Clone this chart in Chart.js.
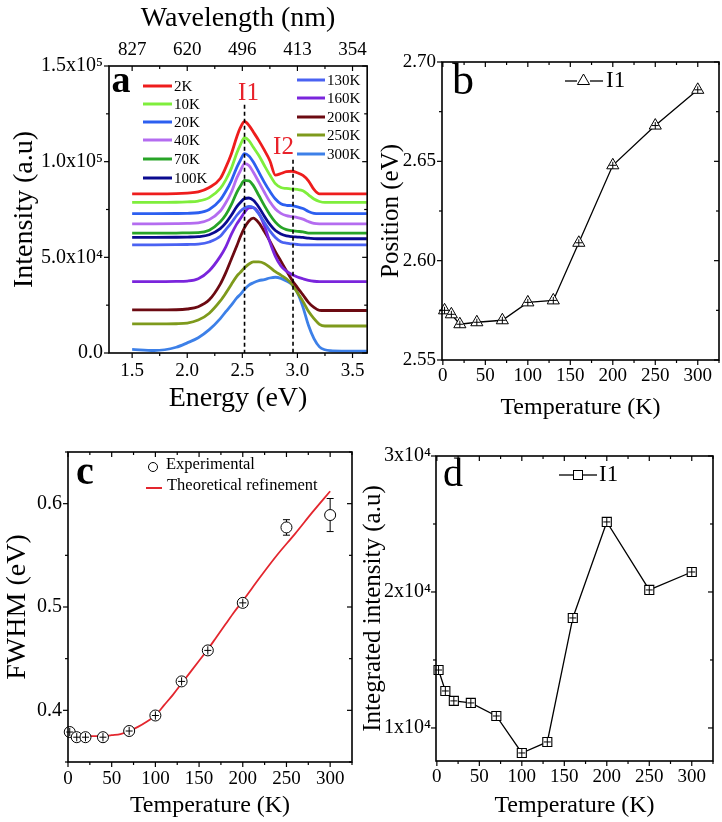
<!DOCTYPE html>
<html><head><meta charset="utf-8">
<script src="https://cdn.jsdelivr.net/npm/chart.js@4.4.1/dist/chart.umd.min.js"></script>
<style>
html,body{margin:0;padding:0;background:#fff;}
#wrap{position:relative;width:722px;height:822px;overflow:hidden;background:#fff;}
canvas{position:absolute;}
</style></head><body>
<div id="wrap">
<canvas id="ca" width="372" height="422" style="left:0px;top:0px"></canvas>
<canvas id="cb" width="350" height="425" style="left:372px;top:0px"></canvas>
<canvas id="cc" width="362" height="402" style="left:0px;top:420px"></canvas>
<canvas id="cd" width="366" height="402" style="left:356px;top:420px"></canvas>
</div>
<script>
// ---------- DATA ----------
// Panel a: PL spectra (intensity in units of 1e4 a.u.)
const energy = [1.5,1.7,1.9,2.0,2.1,2.2,2.3,2.35,2.4,2.45,2.48,2.52,2.56,2.6,2.65,2.7,2.75,2.8,2.85,2.9,2.95,3.0,3.05,3.1,3.15,3.2,3.25,3.3,3.4,3.5,3.63];
const s2K   = [8.32,8.32,8.33,8.36,8.42,8.65,9.12,9.7,10.4,11.3,11.75,12.1,11.9,11.55,11.1,10.6,10.05,9.3,9.38,9.48,9.5,9.42,9.28,9.0,8.55,8.32,8.32,8.32,8.32,8.32,8.32];
const s10K  = [7.87,7.87,7.88,7.9,7.94,8.12,8.6,9.05,9.65,10.45,10.85,11.25,11.1,10.75,10.32,9.8,9.3,8.85,8.65,8.6,8.57,8.55,8.48,8.27,8.05,7.92,7.87,7.87,7.87,7.87,7.87];
const s20K  = [7.28,7.28,7.29,7.3,7.33,7.5,8.0,8.45,9.0,9.7,10.05,10.42,10.3,9.98,9.45,8.92,8.45,8.05,7.8,7.72,7.7,7.64,7.55,7.4,7.3,7.28,7.28,7.28,7.28,7.28,7.28];
const s40K  = [6.75,6.75,6.76,6.77,6.8,6.97,7.42,7.85,8.4,9.15,9.5,9.9,9.8,9.45,8.93,8.4,7.9,7.53,7.3,7.18,7.13,7.08,7.0,6.87,6.77,6.75,6.75,6.75,6.75,6.75,6.75];
const s70K  = [6.27,6.27,6.27,6.28,6.29,6.42,6.86,7.22,7.75,8.4,8.7,9.02,9.0,8.75,8.23,7.7,7.23,6.84,6.58,6.45,6.39,6.36,6.33,6.27,6.27,6.27,6.27,6.27,6.27,6.27,6.27];
const s100K = [6.04,6.04,6.05,6.06,6.08,6.18,6.5,6.8,7.2,7.65,7.85,8.07,8.1,7.98,7.62,7.15,6.72,6.4,6.22,6.12,6.08,6.06,6.04,6.0,5.98,5.97,5.97,5.97,5.97,5.97,5.97];
const s130K = [5.65,5.65,5.66,5.67,5.69,5.8,6.1,6.45,6.8,7.2,7.4,7.58,7.66,7.6,7.27,6.82,6.38,6.04,5.82,5.74,5.7,5.67,5.65,5.65,5.65,5.65,5.65,5.65,5.65,5.65,5.65];
const s160K = [3.73,3.73,3.74,3.76,3.88,4.3,5.05,5.55,6.2,6.75,7.0,7.35,7.58,7.6,7.3,6.65,5.8,5.05,4.55,4.28,4.1,3.97,3.88,3.8,3.75,3.73,3.73,3.73,3.73,3.73,3.73];
const s200K = [2.25,2.25,2.26,2.3,2.42,2.78,3.6,4.2,4.9,5.6,6.05,6.55,6.9,7.05,6.8,6.35,5.85,5.3,4.8,4.3,3.82,3.42,3.04,2.65,2.38,2.23,2.22,2.22,2.22,2.22,2.22];
const s250K = [1.52,1.52,1.53,1.56,1.72,2.08,2.72,3.13,3.58,4.02,4.2,4.45,4.65,4.76,4.76,4.68,4.48,4.25,4.07,3.88,3.6,3.15,2.7,2.18,1.8,1.5,1.41,1.41,1.41,1.41,1.41];
const s300K = [0.19,0.13,0.3,0.53,0.8,1.22,1.8,2.16,2.5,2.88,3.05,3.33,3.55,3.67,3.78,3.84,3.92,3.96,3.9,3.76,3.58,3.15,2.4,1.45,0.75,0.32,0.17,0.12,0.1,0.1,0.1];
const spectraLabels = ['2K','10K','20K','40K','70K','100K','130K','160K','200K','250K','300K'];
const peakEnergies = [2.52, 2.96];
const peakLineTops = [12.98, 10.1];
const peakNames = ['I1','I2'];
const energyTicks = [1.5,2.0,2.5,3.0,3.5];
const wavelengthLabels = ['827','620','496','413','354'];
const intensityTicks = [0,5,10,15];
const intensityLabels = ['0.0','5.0x10\u2074','1.0x10\u2075','1.5x10\u2075'];

// Panels b-d
const temperature = [2,10,20,40,70,100,130,160,200,250,300];
const positionI1  = [2.575,2.573,2.568,2.569,2.570,2.579,2.580,2.609,2.648,2.668,2.686];
const positionErr = [0.0015,0.0015,0.0015,0.0015,0.0015,0.0015,0.0015,0.0015,0.0015,0.0015,0.0015];
const fwhmExp     = [0.379,0.374,0.374,0.374,0.380,0.395,0.428,0.458,0.504,0.577,0.589];
const fwhmErr     = [0.004,0.004,0.004,0.004,0.004,0.004,0.004,0.004,0.004,0.0075,0.016];
const fitTemperature = [0,10,20,30,40,50,60,70,80,90,100,110,120,130,140,150,160,170,180,190,200,220,240,260,280,300];
const fwhmFit     = [0.375,0.375,0.375,0.375,0.375,0.376,0.377,0.380,0.384,0.389,0.395,0.405,0.415,0.426,0.437,0.448,0.459,0.471,0.483,0.495,0.506,0.529,0.551,0.571,0.592,0.612];
const intensityI1 = [1.426,1.272,1.199,1.184,1.088,0.816,0.897,1.809,2.515,2.015,2.147]; // x1e4
const intensityErr= [0.03,0.03,0.03,0.03,0.03,0.03,0.03,0.03,0.03,0.03,0.03];
const tempTicks = [0,50,100,150,200,250,300];
const positionTicks = [2.55,2.60,2.65,2.70];
const fwhmTicks = [0.4,0.5,0.6];
const intTicks = [1,2,3];
const intLabels = ['1x10\u2074','2x10\u2074','3x10\u2074'];

// ---------- STYLE ----------
const F = "'Liberation Serif','Times New Roman',serif";
const spectraColors = ['#ee1d1d','#7fee3c','#2c5ff0','#b46cf0','#28a428','#0b0b90','#4a62f2','#7a25dc','#6c0a12','#7e9a1c','#3d80e8'];
Chart.defaults.font.family = F;
Chart.defaults.color = '#000';

function fixTicks(vals){ return (scale) => { scale.ticks = vals.map(v => ({value: v})); }; }
function seg(ctx,x1,y1,x2,y2){ ctx.beginPath(); ctx.moveTo(x1,y1); ctx.lineTo(x2,y2); ctx.stroke(); }

const frameTicks = {
  id: 'frameTicks',
  afterDraw(chart, args, o) {
    const {ctx, chartArea: a, scales} = chart;
    const xs = scales.x, ys = scales.y;
    ctx.save();
    ctx.strokeStyle = '#000';
    ctx.lineWidth = 1.2;
    const each = (min, max, minor, major, fn) => {
      for (let k = Math.ceil(min/minor - 1e-9); k*minor <= max + 1e-9; k++) {
        const v = k*minor;
        const isMajor = Math.abs(v/major - Math.round(v/major)) < 1e-6;
        fn(v, isMajor ? 5 : 3);
      }
    };
    each(xs.min, xs.max, o.xMinor, o.xMajor, (v,len) => {
      const p = xs.getPixelForValue(v);
      seg(ctx, p, a.bottom, p, a.bottom + len);
      seg(ctx, p, a.top, p, a.top + len);
    });
    each(ys.min, ys.max, o.yMinor, o.yMajor, (v,len) => {
      const p = ys.getPixelForValue(v);
      seg(ctx, a.left - len, p, a.left, p);
      seg(ctx, a.right - len, p, a.right, p);
    });
    ctx.lineWidth = 1.6;
    ctx.strokeRect(a.left, a.top, a.right - a.left, a.bottom - a.top);
    ctx.restore();
  }
};

const errorBars = {
  id: 'errorBars',
  afterDatasetsDraw(chart) {
    const {ctx} = chart; const ys = chart.scales.y;
    chart.data.datasets.forEach((ds, i) => {
      if (!ds.errors) return;
      const meta = chart.getDatasetMeta(i);
      const r = ds.markerHalf || ds.pointRadius;
      ctx.save(); ctx.strokeStyle = '#000'; ctx.lineWidth = 1;
      meta.data.forEach((el, j) => {
        const v = ds.data[j].y, e = ds.errors[j];
        const yLo = ys.getPixelForValue(v - e), yHi = ys.getPixelForValue(v + e);
        const x = el.x, y = el.y;
        const half = Math.abs(yLo - yHi) / 2;
        if (half <= r) {
          const h = Math.max(half, 3.5);
          seg(ctx, x, y - h, x, y + h);
          seg(ctx, x - 3.5, y, x + 3.5, y);
        } else {
          seg(ctx, x, yHi, x, y - r);
          seg(ctx, x, y + r, x, yLo);
          seg(ctx, x - 3.5, yHi, x + 3.5, yHi);
          seg(ctx, x - 3.5, yLo, x + 3.5, yLo);
        }
      });
      ctx.restore();
    });
  }
};

function baseAxis(extra){
  return Object.assign({
    type:'linear',
    grid:{display:false, drawTicks:false},
    border:{display:false},
  }, extra);
}

// ---------- PANEL A ----------
const seriesA = [s2K,s10K,s20K,s40K,s70K,s100K,s130K,s160K,s200K,s250K,s300K];
const annotA = {
  id:'annotA',
  afterDraw(chart){
    const {ctx} = chart; const xs = chart.scales.x, ys = chart.scales.y;
    ctx.save();
    ctx.strokeStyle = '#000'; ctx.lineWidth = 1.6; ctx.setLineDash([4,3]);
    peakEnergies.forEach((e,i) => {
      const px = xs.getPixelForValue(e);
      seg(ctx, px, ys.getPixelForValue(peakLineTops[i]), px, ys.getPixelForValue(0));
    });
    ctx.setLineDash([]);
    ctx.fillStyle = '#e8222a'; ctx.font = '25px ' + F; ctx.textAlign = 'center'; ctx.textBaseline = 'middle';
    const offs = [[4,-11],[-9.5,-12]];
    peakEnergies.forEach((e,i) => {
      const px = xs.getPixelForValue(e), py = ys.getPixelForValue(peakLineTops[i]);
      ctx.fillText(peakNames[i], px + offs[i][0], py + offs[i][1]);
    });
    // panel letter
    ctx.fillStyle = '#000'; ctx.font = 'bold 38px ' + F;
    ctx.fillText('a', 121, 82);
    // legend
    ctx.font = '15px ' + F; ctx.textAlign = 'left';
    const ds = chart.data.datasets;
    const col1 = [86,104,122,140,159,178], col2 = [80,98,117,135,154];
    ctx.lineWidth = 3;
    ds.forEach((d,i) => {
      let y, x1, x2, tx;
      if (i < 6) { y = col1[i]; x1 = 143; x2 = 172; tx = 174; }
      else { y = col2[i-6]; x1 = 297; x2 = 325; tx = 327; }
      ctx.strokeStyle = d.borderColor;
      seg(ctx, x1, y, x2, y);
      ctx.fillStyle = '#000';
      ctx.fillText(d.label, tx, y + 1);
    });
    ctx.restore();
  }
};

new Chart(document.getElementById('ca'), {
  type:'line',
  data:{ datasets: seriesA.map((s,i) => ({
    label: spectraLabels[i],
    data: energy.map((e,j) => ({x:e, y:s[j]})),
    borderColor: spectraColors[i], borderWidth: 2.8, pointRadius: 0,
    cubicInterpolationMode:'monotone', fill:false
  }))},
  options:{
    responsive:false, animation:false, events:[],
    layout:{autoPadding:false, padding:{left:0,right:4,top:0,bottom:0}},
    plugins:{legend:{display:false}, tooltip:{enabled:false},
      frameTicks:{xMinor:0.25,xMajor:0.5,yMinor:2.5,yMajor:5}},
    scales:{
      x: baseAxis({position:'bottom', min:1.29, max:3.633,
        afterBuildTicks: fixTicks(energyTicks), afterFit: s => { s.height = 69; },
        ticks:{font:{size:19}, padding:7, maxRotation:0, autoSkip:false, callback: v => v.toFixed(1)},
        title:{display:true, text:'Energy (eV)', font:{size:28}, padding:{top:0,bottom:7}}}),
      xTop: baseAxis({position:'top', min:1.29, max:3.633,
        afterBuildTicks: fixTicks(energyTicks), afterFit: s => { s.height = 66; },
        ticks:{font:{size:19}, padding:5, maxRotation:0, autoSkip:false, callback: (v,i) => wavelengthLabels[i]},
        title:{display:true, text:'Wavelength (nm)', font:{size:28}, padding:{top:2,bottom:0}}}),
      y: baseAxis({position:'left', min:0, max:15,
        afterBuildTicks: fixTicks(intensityTicks), afterFit: s => { s.width = 109; },
        ticks:{font:{size:20}, padding:6, autoSkip:false, callback: (v,i) => intensityLabels[i]},
        title:{display:true, text:'Intensity (a.u)', font:{size:28}, padding:{top:8,bottom:0}}})
    }
  },
  plugins:[frameTicks, annotA]
});

// ---------- PANEL B ----------
const annotB = {
  id:'annotB',
  afterDraw(chart){
    const {ctx} = chart;
    ctx.save();
    ctx.fillStyle = '#000'; ctx.textBaseline = 'middle'; ctx.textAlign = 'center';
    ctx.font = '44px ' + F;
    ctx.fillText('b', 91, 82);
    ctx.strokeStyle = '#000'; ctx.lineWidth = 1.3;
    const y = 81;
    seg(ctx, 193, y, 205, y); seg(ctx, 218, y, 231, y);
    const cx = 211.5, r = 7;
    ctx.beginPath();
    ctx.moveTo(cx, y - r); ctx.lineTo(cx + r*0.866, y + r*0.5); ctx.lineTo(cx - r*0.866, y + r*0.5); ctx.closePath();
    ctx.fillStyle = '#fff'; ctx.fill(); ctx.lineWidth = 1; ctx.stroke();
    ctx.fillStyle = '#000'; ctx.textAlign = 'left'; ctx.font = '23px ' + F;
    ctx.fillText(chart.data.datasets[0].label, 234, y);
    ctx.restore();
  }
};
new Chart(document.getElementById('cb'), {
  type:'line',
  data:{ datasets:[{
    label:'I1', data: temperature.map((t,i) => ({x:t, y:positionI1[i]})), errors: positionErr,
    borderColor:'#000', borderWidth:1.3, pointStyle:'triangle', pointRadius:7, markerHalf:4,
    pointBackgroundColor:'#fff', pointBorderColor:'#000', pointBorderWidth:1, tension:0, clip:false
  }]},
  options:{
    responsive:false, animation:false, events:[],
    layout:{autoPadding:false, padding:{left:0,right:3,top:62,bottom:0}},
    plugins:{legend:{display:false}, tooltip:{enabled:false},
      frameTicks:{xMinor:25,xMajor:50,yMinor:0.025,yMajor:0.05}},
    scales:{
      x: baseAxis({position:'bottom', min:-1, max:325,
        afterBuildTicks: fixTicks(tempTicks), afterFit: s => { s.height = 65; },
        ticks:{font:{size:19}, padding:5, maxRotation:0, autoSkip:false, callback: v => String(v)},
        title:{display:true, text:'Temperature (K)', font:{size:24}, padding:{top:0,bottom:3}}}),
      y: baseAxis({position:'left', min:2.55, max:2.70,
        afterBuildTicks: fixTicks(positionTicks), afterFit: s => { s.width = 70; },
        ticks:{font:{size:19}, padding:6, autoSkip:false, callback: v => v.toFixed(2)},
        title:{display:true, text:'Position (eV)', font:{size:25}, padding:{top:4,bottom:0}}})
    }
  },
  plugins:[frameTicks, errorBars, annotB]
});

// ---------- PANEL C ----------
const annotC = {
  id:'annotC',
  afterDraw(chart){
    const {ctx} = chart;
    ctx.save();
    ctx.fillStyle = '#000'; ctx.textBaseline = 'middle'; ctx.textAlign = 'center';
    ctx.font = 'bold 40px ' + F;
    ctx.fillText('c', 85, 54);
    const ds = chart.data.datasets;
    ctx.strokeStyle = '#000'; ctx.lineWidth = 1;
    ctx.beginPath(); ctx.arc(153, 47, 4.5, 0, Math.PI*2); ctx.fillStyle = '#fff'; ctx.fill(); ctx.stroke();
    ctx.fillStyle = '#000'; ctx.textAlign = 'left'; ctx.font = '16.5px ' + F;
    ctx.fillText(ds[0].label, 166, 45);
    ctx.strokeStyle = ds[1].borderColor; ctx.lineWidth = 2;
    seg(ctx, 146, 68, 162, 68);
    ctx.fillText(ds[1].label, 167, 66);
    ctx.restore();
  }
};
new Chart(document.getElementById('cc'), {
  type:'line',
  data:{ datasets:[{
    label:'Experimental', data: temperature.map((t,i) => ({x:t, y:fwhmExp[i]})), errors: fwhmErr,
    showLine:false, pointStyle:'circle', pointRadius:5.5,
    pointBackgroundColor:'#fff', pointBorderColor:'#000', pointBorderWidth:1, clip:false
  },{
    label:'Theoretical refinement', data: fitTemperature.map((t,i) => ({x:t, y:fwhmFit[i]})),
    borderColor:'#e3262e', borderWidth:1.8, pointRadius:0, cubicInterpolationMode:'monotone', fill:false
  }]},
  options:{
    responsive:false, animation:false, events:[],
    layout:{autoPadding:false, padding:{left:0,right:10,top:32,bottom:0}},
    plugins:{legend:{display:false}, tooltip:{enabled:false},
      frameTicks:{xMinor:25,xMajor:50,yMinor:0.05,yMajor:0.1}},
    scales:{
      x: baseAxis({position:'bottom', min:0, max:325,
        afterBuildTicks: fixTicks(tempTicks), afterFit: s => { s.height = 60; },
        ticks:{font:{size:19}, padding:6, maxRotation:0, autoSkip:false, callback: v => String(v)},
        title:{display:true, text:'Temperature (K)', font:{size:24}, padding:{top:0,bottom:2}}}),
      y: baseAxis({position:'left', min:0.35, max:0.65,
        afterBuildTicks: fixTicks(fwhmTicks), afterFit: s => { s.width = 68; },
        ticks:{font:{size:20}, padding:6, autoSkip:false, callback: v => v.toFixed(1)},
        title:{display:true, text:'FWHM (eV)', font:{size:28}, padding:{top:1,bottom:0}}})
    }
  },
  plugins:[frameTicks, errorBars, annotC]
});

// ---------- PANEL D ----------
const annotD = {
  id:'annotD',
  afterDraw(chart){
    const {ctx} = chart;
    ctx.save();
    ctx.fillStyle = '#000'; ctx.textBaseline = 'middle'; ctx.textAlign = 'center';
    ctx.font = '40px ' + F;
    ctx.fillText('d', 97, 55);
    ctx.strokeStyle = '#000'; ctx.lineWidth = 1.3;
    const y = 55;
    seg(ctx, 203, y, 217, y); seg(ctx, 227, y, 241, y);
    ctx.fillStyle = '#fff'; ctx.fillRect(217.5, y - 4.5, 9, 9); ctx.lineWidth = 1; ctx.strokeRect(217.5, y - 4.5, 9, 9);
    ctx.fillStyle = '#000'; ctx.textAlign = 'left'; ctx.font = '23px ' + F;
    ctx.fillText(chart.data.datasets[0].label, 243, y);
    ctx.restore();
  }
};
new Chart(document.getElementById('cd'), {
  type:'line',
  data:{ datasets:[{
    label:'I1', data: temperature.map((t,i) => ({x:t, y:intensityI1[i]})), errors: intensityErr,
    borderColor:'#000', borderWidth:1.3, pointStyle:'rect', pointRadius:6.4, markerHalf:4.5,
    pointBackgroundColor:'#fff', pointBorderColor:'#000', pointBorderWidth:1.1, tension:0, clip:false
  }]},
  options:{
    responsive:false, animation:false, events:[],
    layout:{autoPadding:false, padding:{left:0,right:9,top:36,bottom:0}},
    plugins:{legend:{display:false}, tooltip:{enabled:false},
      frameTicks:{xMinor:25,xMajor:50,yMinor:0.5,yMajor:1}},
    scales:{
      x: baseAxis({position:'bottom', min:-1, max:325,
        afterBuildTicks: fixTicks(tempTicks), afterFit: s => { s.height = 61; },
        ticks:{font:{size:19}, padding:5, maxRotation:0, autoSkip:false, callback: v => String(v)},
        title:{display:true, text:'Temperature (K)', font:{size:24}, padding:{top:0,bottom:2}}}),
      y: baseAxis({position:'left', min:0.757, max:3.0,
        afterBuildTicks: fixTicks(intTicks), afterFit: s => { s.width = 80; },
        ticks:{font:{size:20}, padding:5, autoSkip:false, callback: (v,i) => intLabels[i]},
        title:{display:true, text:'Integrated intensity (a.u)', font:{size:25}, padding:{top:2,bottom:0}}})
    }
  },
  plugins:[frameTicks, errorBars, annotD]
});
</script>
</body></html>
